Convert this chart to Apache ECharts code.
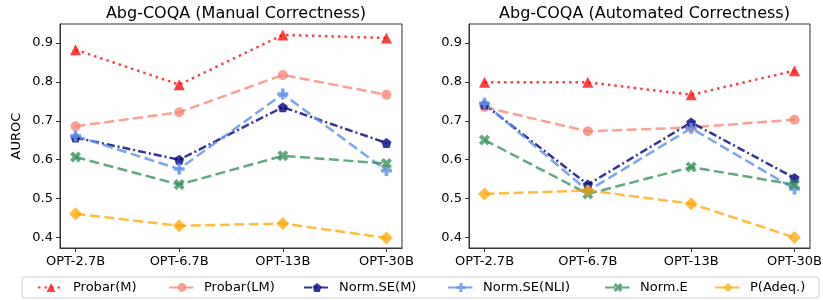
<!DOCTYPE html>
<html>
<head>
<meta charset="utf-8">
<script src="https://cdn.jsdelivr.net/npm/echarts@6/dist/echarts.min.js"></script>
<style>
  html, body { margin: 0; padding: 0; background: #fff; }
  #chart { width: 823px; height: 300px; }
</style>
</head>
<body>
<div id="chart"></div>
<script>
// model sizes on the x axis
const models = ['OPT-2.7B', 'OPT-6.7B', 'OPT-13B', 'OPT-30B']
const yTicks = [0.4, 0.5, 0.6, 0.7, 0.8, 0.9]
const titles = ['Abg-COQA (Manual Correctness)', 'Abg-COQA (Automated Correctness)']

// left panel: manual correctness
const manualProbarM = [0.883, 0.793, 0.921, 0.913]
const manualProbarLM = [0.686, 0.722, 0.818, 0.767]
const manualNormSEM = [0.657, 0.600, 0.735, 0.643]
const manualNormSENLI = [0.661, 0.576, 0.769, 0.572]
const manualNormE = [0.607, 0.536, 0.610, 0.590]
const manualPAdeq = [0.461, 0.430, 0.436, 0.399]

// right panel: automated correctness
const autoProbarM = [0.799, 0.799, 0.767, 0.829]
const autoProbarLM = [0.735, 0.673, 0.683, 0.703]
const autoNormSEM = [0.742, 0.536, 0.696, 0.553]
const autoNormSENLI = [0.745, 0.520, 0.681, 0.525]
const autoNormE = [0.651, 0.512, 0.581, 0.536]
const autoPAdeq = [0.512, 0.521, 0.487, 0.400]

const seriesNames = ['Probar(M)', 'Probar(LM)', 'Norm.SE(M)', 'Norm.SE(NLI)', 'Norm.E', 'P(Adeq.)']
const panels = [
  [manualProbarM, manualProbarLM, manualNormSEM, manualNormSENLI, manualNormE, manualPAdeq],
  [autoProbarM, autoProbarLM, autoNormSEM, autoNormSENLI, autoNormE, autoPAdeq]
]

const FONT = 'DejaVu Sans'
const AXIS_COLOR = '#333'

const pentagon = 'path://M0,-1 L0.951,-0.309 L0.588,0.809 L-0.588,0.809 L-0.951,-0.309 Z'
const plusFilled = 'path://M-1,-0.33 L-0.33,-0.33 L-0.33,-1 L0.33,-1 L0.33,-0.33 L1,-0.33 L1,0.33 L0.33,0.33 L0.33,1 L-0.33,1 L-0.33,0.33 L-1,0.33 Z'
const xFilled = 'path://M-0.94,-0.47 L-0.47,-0.94 L0,-0.47 L0.47,-0.94 L0.94,-0.47 L0.47,0 L0.94,0.47 L0.47,0.94 L0,0.47 L-0.47,0.94 L-0.94,0.47 L-0.47,0 Z'
const thinDiamond = 'path://M0,-1 L0.62,0 L0,1 L-0.62,0 Z'

const styles = [
  { color: 'rgba(255,0,0,0.75)', dash: [2.5, 4], symbol: 'triangle', size: 11 },
  { color: 'rgba(250,128,114,0.75)', dash: [10, 4.5], symbol: 'circle', size: 10 },
  { color: 'rgba(0,0,128,0.8)', dash: [8, 3, 2, 3], symbol: pentagon, size: 10 },
  { color: 'rgba(100,149,237,0.85)', dash: [10, 4.5], symbol: plusFilled, size: 11 },
  { color: 'rgba(46,139,87,0.75)', dash: [10, 4.5], symbol: xFilled, size: 11 },
  { color: 'rgba(255,165,0,0.75)', dash: [10, 4.5], symbol: thinDiamond, size: 13 }
]

const grids = [
  { left: 60, top: 24, width: 342, height: 224 },
  { left: 469, top: 24, width: 341, height: 224 }
]

// legend columns (icon left edge)
const legendLeft = [37, 168, 303, 447, 604, 714]

const chart = echarts.init(document.getElementById('chart'), null, { renderer: 'canvas' })

const option = {
  animation: false,
  backgroundColor: '#fff',
  textStyle: { fontFamily: FONT },
  title: titles.map((t, i) => ({
    text: t,
    left: grids[i].left + grids[i].width / 2,
    textAlign: 'center',
    top: 1,
    textStyle: { fontFamily: FONT, fontSize: 16, fontWeight: 'normal', color: '#000' }
  })),
  grid: grids.map(g => ({
    ...g,
    show: true,
    borderColor: AXIS_COLOR,
    borderWidth: 1,
    backgroundColor: 'transparent',
    outerBoundsMode: 'none'
  })),
  xAxis: grids.map((g, i) => ({
    type: 'value',
    gridIndex: i,
    min: -0.15,
    max: 3.15,
    axisLine: { show: true, onZero: false, lineStyle: { color: AXIS_COLOR } },
    axisTick: { show: true, inside: false, length: 4, customValues: [0, 1, 2, 3], lineStyle: { color: AXIS_COLOR } },
    axisLabel: {
      customValues: [0, 1, 2, 3],
      formatter: v => models[Math.round(v)],
      fontFamily: FONT, fontSize: 13, color: '#000', margin: 7
    },
    splitLine: { show: false }
  })),
  yAxis: grids.map((g, i) => ({
    type: 'value',
    gridIndex: i,
    min: 0.373,
    max: 0.949,
    name: i === 0 ? 'AUROC' : '',
    nameLocation: 'middle',
    nameGap: 37,
    nameTextStyle: { fontFamily: FONT, fontSize: 13, color: '#000' },
    axisLine: { show: true, onZero: false, lineStyle: { color: AXIS_COLOR } },
    axisTick: { show: true, inside: false, length: 4, customValues: yTicks, lineStyle: { color: AXIS_COLOR } },
    axisLabel: {
      customValues: yTicks,
      formatter: v => v.toFixed(1),
      fontFamily: FONT, fontSize: 13, color: '#000', margin: 7
    },
    splitLine: { show: false }
  })),
  legend: seriesNames.map((name, k) => ({
    data: [name],
    left: legendLeft[k],
    top: 281,
    itemWidth: 26,
    itemHeight: 11,
    padding: 0,
    textStyle: { fontFamily: FONT, fontSize: 13, color: '#000', padding: [0, 0, 0, 4] }
  })),
  graphic: [{
    type: 'rect',
    shape: { x: 22, y: 277, width: 797, height: 21, r: 3 },
    style: { fill: 'rgba(255,255,255,0.8)', stroke: '#ccc', lineWidth: 1 },
    z: -1
  }],
  series: []
}

panels.forEach((panel, i) => {
  panel.forEach((vals, k) => {
    const s = styles[k]
    option.series.push({
      name: seriesNames[k],
      type: 'line',
      xAxisIndex: i,
      yAxisIndex: i,
      data: vals.map((v, j) => [j, v]),
      symbol: s.symbol,
      symbolSize: s.size,
      showSymbol: true,
      lineStyle: { color: s.color, width: 2.5, type: s.dash },
      itemStyle: { color: s.color, borderWidth: 0 },
      emphasis: { disabled: true }
    })
  })
})

chart.setOption(option)
</script>
</body>
</html>
